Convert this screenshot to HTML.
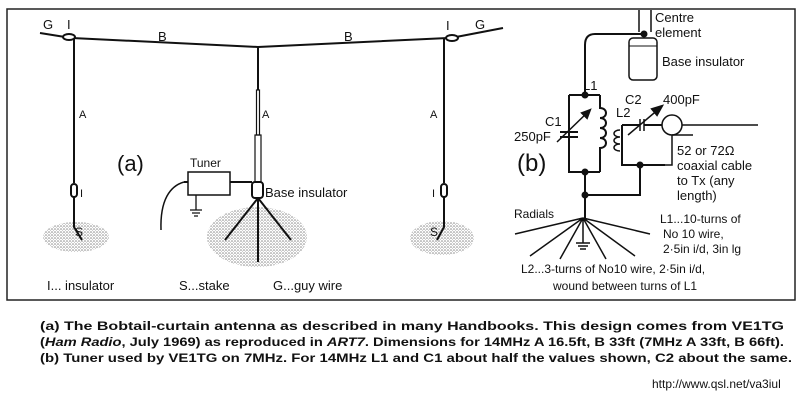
<!DOCTYPE html>
<html><head><style>
html,body{margin:0;padding:0;background:#fff;}
svg{display:block;}
text{font-family:"Liberation Sans",sans-serif;fill:#111;}
</style></head><body>
<svg width="803" height="409" viewBox="0 0 803 409" xmlns="http://www.w3.org/2000/svg">
<defs>
<pattern id="st" width="3" height="3" patternUnits="userSpaceOnUse">
<rect width="3" height="3" fill="#fff"/><circle cx="1" cy="1" r="0.8" fill="#888"/><circle cx="2.5" cy="2.3" r="0.5" fill="#aaa"/>
</pattern>
</defs>
<rect x="7" y="9" width="788" height="291" fill="none" stroke="#222" stroke-width="1.5"/>
<g stroke="#111" fill="none" stroke-width="2">
<ellipse cx="76" cy="237" rx="33" ry="15" fill="url(#st)" stroke="none"/>
<ellipse cx="257" cy="237" rx="50" ry="30" fill="url(#st)" stroke="none"/>
<ellipse cx="442" cy="238" rx="32" ry="17" fill="url(#st)" stroke="none"/>
<path d="M40 33 L65 37"/>
<path d="M72 38 L258 47 L448 38"/>
<path d="M456 37 L503 28"/>
<ellipse cx="69" cy="37" rx="6" ry="3" fill="#fff"/>
<ellipse cx="452" cy="38" rx="6" ry="3" fill="#fff"/>
<path d="M74 38 L74 183"/>
<rect x="71" y="184" width="6" height="13" rx="3" fill="#fff"/>
<path d="M74 197 L74 227 L82 240"/>
<path d="M444 38 L444 183"/>
<rect x="441" y="184" width="6" height="13" rx="3" fill="#fff"/>
<path d="M444 197 L444 227 L437 240"/>
<path d="M258 47 L258 90"/>
<rect x="256.5" y="90" width="3" height="45" stroke-width="1.2"/>
<rect x="255" y="135" width="6" height="47" stroke-width="1.2"/>
<rect x="252" y="182" width="11" height="16" rx="3" fill="#fff"/>
<path d="M258 198 L225 240 M258 198 L291 240 M258 198 L258 262"/>
<rect x="188" y="172" width="42" height="23" stroke-width="1.5"/>
<path d="M230 182 L252 182 M188 182 L184 182"/>
<path d="M184 182 C170 186 160 200 161 230" stroke-width="1.5"/>
<path d="M196 195 L196 210 M190 210 L202 210 M192 213 L200 213 M194 216 L198 216" stroke-width="1.3"/>
</g>
<g font-size="13">
<text x="43" y="29">G</text><text x="67" y="29">I</text>
<text x="158" y="41">B</text><text x="344" y="41">B</text>
<text x="446" y="30">I</text><text x="475" y="29">G</text>
<text x="79" y="118" font-size="11">A</text><text x="262" y="118" font-size="11">A</text><text x="430" y="118" font-size="11">A</text>
<text x="80" y="197" font-size="11">I</text><text x="432" y="197" font-size="11">I</text>
<text x="75" y="236" font-size="12">S</text><text x="430" y="236" font-size="12">S</text>
<text x="190" y="167" font-size="12">Tuner</text>
<text x="265" y="197" font-size="13">Base insulator</text>
<text x="117" y="171" font-size="22">(a)</text>
<text x="47" y="290">I... insulator</text>
<text x="179" y="290">S...stake</text>
<text x="273" y="290">G...guy wire</text>
</g>
<g stroke="#111" fill="none" stroke-width="2">
<path d="M639 10 L639 32 M651 10 L651 32" stroke-width="1.5"/>
<rect x="629" y="38" width="28" height="42" rx="4" stroke-width="1.5"/>
<path d="M629 46 L657 46" stroke-width="1"/>
<circle cx="644" cy="34" r="2.5" fill="#111"/>
<path d="M644 34 L595 34 Q585 34 585 45 L585 95"/>
<path d="M569 95 L600 95 M569 95 L569 172 L600 172"/>
<path d="M600 95 L600 108 C608 108 608 118 600 118 C608 118 608 128 600 128 C608 128 608 138 600 138 C608 138 608 148 600 148 L600 172"/>
<path d="M560 132 L578 132 M560 137 L578 137 M569 95 L569 132 M569 137 L569 172"/>
<path d="M557 142 L590 110" stroke-width="1.5"/><path d="M590 110 L582 113 L587 118 Z" fill="#111"/>
<path d="M585 172 L585 218 M585 195 L640 195 L640 165"/>
<path d="M622 125 L622 165 L665 165"/>
<path d="M622 125 L640 125 M644 125 L662 125"/>
<path d="M620 130 C612 130 612 137 620 137 C612 137 612 144 620 144 C612 144 612 151 620 151" stroke-width="1.5"/>
<path d="M640 119 L640 131 M644 119 L644 131" stroke-width="1.5"/>
<path d="M628 135 L660 108" stroke-width="1.5"/><path d="M662 106 L652 109 L657 115 Z" fill="#111"/>
<circle cx="672" cy="125" r="10" stroke-width="1.5"/>
<path d="M682 125 L758 125 M672 135 L693 135" stroke-width="1.5"/>
<path d="M665 165 L672 165 L672 135" stroke-width="1.5"/>
<circle cx="585" cy="95" r="2.5" fill="#111"/><circle cx="585" cy="172" r="2.5" fill="#111"/>
<circle cx="585" cy="195" r="2.5" fill="#111"/><circle cx="640" cy="165" r="2.5" fill="#111"/>
<g stroke-width="1.5">
<path d="M583 218 L515 234 M583 218 L530 256 M583 218 L560 259 M583 218 L606 259 M583 218 L635 256 M583 218 L650 234 M583 218 L583 243"/>
<path d="M576 243 L590 243 M578 246 L588 246 M580 249 L586 249"/>
</g>
</g>
<g font-size="13">
<text x="655" y="22">Centre</text><text x="655" y="37">element</text>
<text x="662" y="66">Base insulator</text>
<text x="583" y="90">L1</text>
<text x="625" y="104">C2</text><text x="663" y="104">400pF</text>
<text x="616" y="117">L2</text>
<text x="545" y="126">C1</text><text x="514" y="141">250pF</text>
<text x="517" y="171" font-size="24">(b)</text>
<text x="677" y="155">52 or 72Ω</text>
<text x="677" y="170">coaxial cable</text>
<text x="677" y="185">to Tx (any</text>
<text x="677" y="200">length)</text>
<text x="514" y="218" font-size="12">Radials</text>
<text x="660" y="223" font-size="12">L1...10-turns of</text>
<text x="663" y="238" font-size="12">No 10 wire,</text>
<text x="663" y="253" font-size="12">2·5in i/d, 3in lg</text>
<text x="521" y="273" font-size="12">L2...3-turns of No10 wire, 2·5in i/d,</text>
<text x="553" y="290" font-size="12">wound between turns of L1</text>
</g>
<g font-size="12" font-weight="bold">
<text x="40" y="330" textLength="744" lengthAdjust="spacingAndGlyphs">(a) The Bobtail-curtain antenna as described in many Handbooks. This design comes from VE1TG</text>
<text x="40" y="346" textLength="744" lengthAdjust="spacingAndGlyphs">(<tspan font-style="italic">Ham Radio</tspan>, July 1969) as reproduced in <tspan font-style="italic">ART7</tspan>. Dimensions for 14MHz A 16.5ft, B 33ft (7MHz A 33ft, B 66ft).</text>
<text x="40" y="362" textLength="752" lengthAdjust="spacingAndGlyphs">(b) Tuner used by VE1TG on 7MHz. For 14MHz L1 and C1 about half the values shown, C2 about the same.</text>
</g>
<text x="652" y="388" font-size="12">http://www.qsl.net/va3iul</text>
</svg>
</body></html>
